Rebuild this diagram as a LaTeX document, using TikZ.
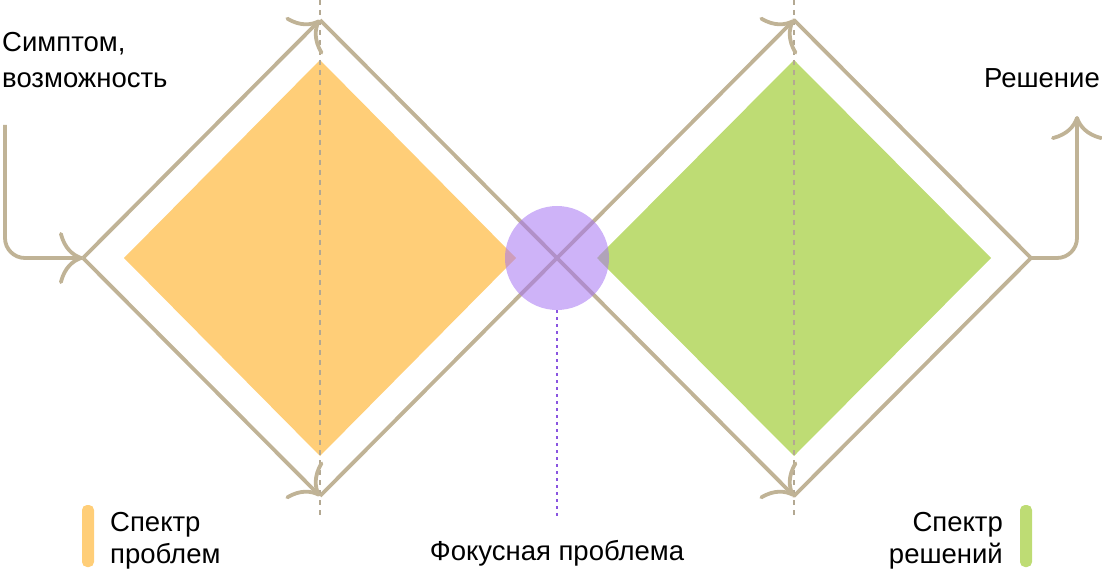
\documentclass[tikz,border=0pt]{standalone}
\usepackage{fontspec}
\setmainfont{Liberation Sans}
\usetikzlibrary{arrows.meta}
\definecolor{tan}{HTML}{C0B396}
\definecolor{orng}{HTML}{FFCE78}
\definecolor{grn}{HTML}{BEDC74}
\definecolor{purp}{HTML}{A675F2}
\definecolor{purpline}{HTML}{8A55E0}
\definecolor{dashgray}{HTML}{B3A892}
\tikzset{
  flow/.style={draw=tan, line width=3.8pt, line join=miter},
  tipped/.style={flow, -{Computer Modern Rightarrow[length=24pt,width=52pt]}},
  guide/.style={draw=dashgray, line width=2pt, dash pattern=on 5pt off 5pt},
  lbl/.style={inner sep=0pt, font=\fontsize{27.5}{36}\selectfont},
  legendlbl/.style={inner sep=0pt, font=\fontsize{27.5}{31.6}\selectfont},
  bar/.style={rounded corners=5pt, draw=none}
}
\begin{document}
\begin{tikzpicture}[x=1pt,y=-1pt]
\useasboundingbox (0,0) rectangle (1102,577);
% key points
\coordinate (L) at (83,258);
\coordinate (T1) at (320,20);
\coordinate (B1) at (320,496);
\coordinate (C) at (557,258);
\coordinate (T2) at (794,20);
\coordinate (B2) at (794,496);
\coordinate (R) at (1031,258);
\coordinate (in) at (5,125);
\coordinate (out) at (1077,116);
% fills
\fill[orng] (124,258) -- (320,60) -- (516,258) -- (320,456) -- cycle;
\fill[grn] (597,258) -- (794,60) -- (991,258) -- (794,456) -- cycle;
% guides
\coordinate (g1a) at (320,0); \coordinate (g1b) at (320,516);
\coordinate (g2a) at (794,0); \coordinate (g2b) at (794,516);
\draw[guide] (g1a) -- (g1b);
\draw[guide] (g2a) -- (g2b);
% outline
\draw[tipped] (L) -- (T1);
\draw[tipped] (L) -- (B1);
\draw[tipped] (T1) -- (B2);
\draw[tipped] (B1) -- (T2);
\draw[flow, line cap=round] (T2) -- (R) -- (B2);
\draw[tipped, rounded corners=20pt] (in) |- (L);
\draw[tipped, rounded corners=20pt] (R) -| (out);
% focus
\coordinate (fa) at (557,310); \coordinate (fb) at (557,516);
\draw[purpline, line width=2pt, dash pattern=on 3pt off 4pt] (fa) -- (fb);
\node[circle, fill=purp, fill opacity=0.55, minimum size=104pt, inner sep=0pt] (focus) at (C) {};
% labels
\node[lbl, anchor=north west, align=left] (sym) at (2,32) {Симптом,\\возможность};
\node[lbl, anchor=base east] (sol) at (1100,88) {Решение};
\node[lbl, anchor=base] (foc) at (557,560) {Фокусная проблема};
\fill[bar, orng] (82,505) rectangle (94,567);
\fill[bar, grn] (1020,505) rectangle (1032,567);
\node[legendlbl, anchor=north west, align=left] (lp) at (110,512) {Спектр\\проблем};
\node[legendlbl, anchor=north east, align=right] (ls) at (1003,512) {Спектр\\решений};
\end{tikzpicture}
\end{document}
